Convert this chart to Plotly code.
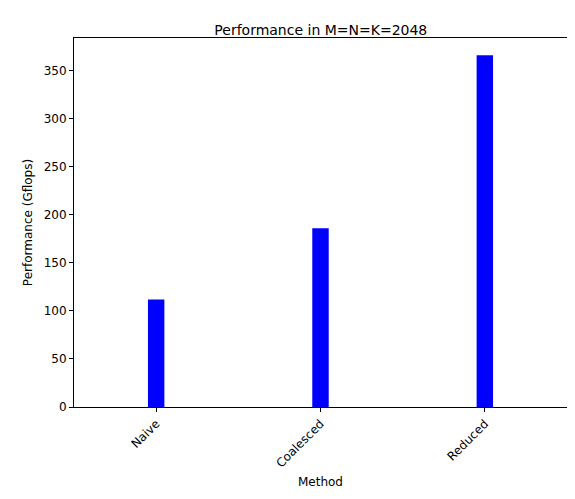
import plotly.graph_objects as go

methods = ["Naive", "Coalesced", "Reduced"]
gflops = [112, 186, 366]

fig = go.Figure(go.Bar(x=methods, y=gflops, width=0.1, marker=dict(color="blue", line=dict(width=0))))

axis_common = dict(showline=True, linecolor="black", linewidth=1, mirror=True, ticks="outside",
                   ticklen=4, tickcolor="black", showgrid=False, zeroline=False, automargin=False,
                   tickfont=dict(size=12, color="black"))
fig.update_layout(
    width=575, height=499,
    margin=dict(l=66, r=16, t=30, b=100, autoexpand=False),
    plot_bgcolor="white", paper_bgcolor="white",
    font=dict(family="DejaVu Sans", color="black"),
    title=dict(text="Performance in M=N=K=2048", x=0.544, xanchor="center", y=0.965, font=dict(size=14)),
    xaxis=dict(title=dict(text="Method", font=dict(size=12), standoff=8), range=[-0.5, 2.5], tickangle=-45, **axis_common),
    yaxis=dict(title=dict(text="Performance (Gflops)", font=dict(size=12), standoff=8), range=[0, 384], dtick=50, **axis_common),
    showlegend=False,
)
fig.write_html("out.html")
